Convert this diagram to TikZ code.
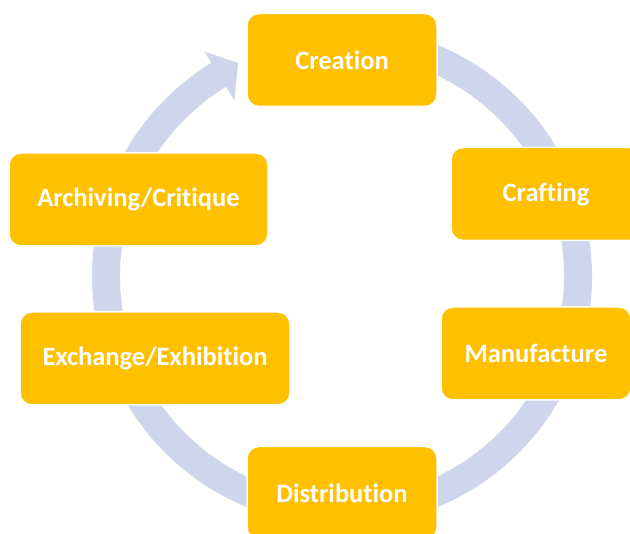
\documentclass[tikz,border=0pt]{standalone}
\usepackage{fontspec}
\setmainfont{Carlito}[Ligatures={NoCommon}]
\definecolor{boxc}{HTML}{FFC000}
\definecolor{ringc}{HTML}{CFD5EA}
\begin{document}
\begin{tikzpicture}[x=1pt,y=1pt,
  stage/.style={draw=white, line width=1.5pt, fill=boxc, rounded corners=12pt,
    minimum height=93pt, inner sep=0pt, text=white,
    font=\fontsize{26.5}{30}\selectfont\bfseries}]
\useasboundingbox (0,0) rectangle (630,534);
\clip (0,0) rectangle (630,534);
% ring with arrow head
\begin{scope}[shift={(342,258)}]
\fill[ringc] (100:250) arc[start angle=100, end angle=-238.5, radius=250]
  -- (121.5:263) -- (116:237) -- (121.5:206) -- (121.5:222)
  arc[start angle=121.5, end angle=460, radius=222] -- cycle;
\end{scope}
\node[stage, minimum width=190pt] (creation) at (342,474) {Creation};
\node[stage, minimum width=190pt] (crafting) at (546,340) {Crafting};
\node[stage, minimum width=190pt] (manufacture) at (536,180.5) {Manufacture};
\node[stage, minimum width=190pt] (distribution) at (342,41) {Distribution};
\node[stage, minimum width=270pt] (exchange) at (155,175.5) {Exchange/Exhibition};
\node[stage, minimum width=259pt] (archiving) at (138.5,334.5) {Archiving/Critique};
\end{tikzpicture}
\end{document}
